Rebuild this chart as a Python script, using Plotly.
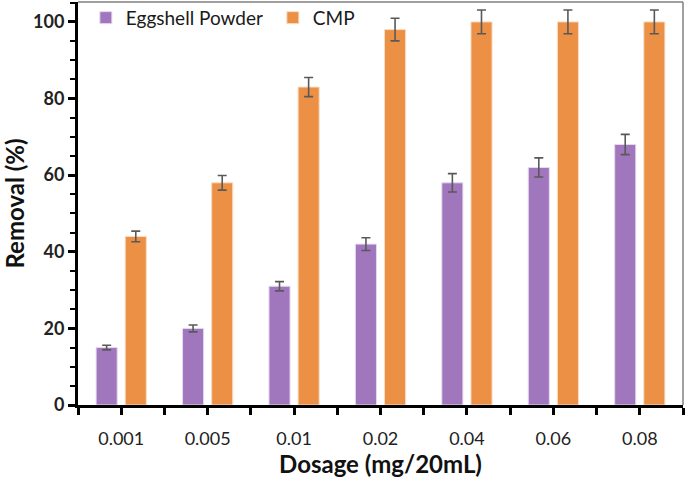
import plotly.graph_objects as go

categories = ["0.001", "0.005", "0.01", "0.02", "0.04", "0.06", "0.08"]
eggshell = [15, 20, 31, 42, 58, 62, 68]
eggshell_err = [0.6, 0.9, 1.2, 1.65, 2.4, 2.5, 2.65]
cmp_vals = [44, 58, 83, 98, 100, 100, 100]
cmp_err = [1.4, 1.9, 2.5, 2.95, 3.1, 3.1, 3.1]
y_ticks = [0, 20, 40, 60, 80, 100]

FONT = "Lato"
xpos = list(range(len(categories)))

fig = go.Figure()
fig.add_trace(go.Bar(
    x=xpos, y=eggshell, name="Eggshell Powder",
    marker=dict(color="#A077BD", line=dict(color="#E6D9EF", width=1)),
    error_y=dict(type="data", array=eggshell_err, color="#595959", thickness=1.6, width=4.5),
))
fig.add_trace(go.Bar(
    x=xpos, y=cmp_vals, name="CMP",
    marker=dict(color="#EB9045", line=dict(color="#F8DCC4", width=1)),
    error_y=dict(type="data", array=cmp_err, color="#595959", thickness=1.6, width=4.5),
))

tickvals = []
ticktext = []
for i in range(len(categories)):
    tickvals += [i - 0.5, i]
    ticktext += ["", categories[i]]
tickvals.append(len(categories) - 0.5)
ticktext.append("")

fig.update_layout(
    width=685, height=484,
    margin=dict(l=78, r=2, t=2, b=79, autoexpand=False),
    paper_bgcolor="white", plot_bgcolor="white",
    barmode="group", bargap=0.326, bargroupgap=0.276,
    font=dict(family=FONT, color="#222222"),
    legend=dict(
        orientation="h", x=0.013, y=1.008, xanchor="left", yanchor="top",
        font=dict(family=FONT, size=19, color="#1a1a1a"),
        bgcolor="rgba(0,0,0,0)", entrywidth=142,
    ),
    showlegend=True,
    shapes=[
        dict(type="line", xref="paper", yref="paper", x0=0, y0=1, x1=1, y1=1,
             line=dict(color="#808080", width=1.5), layer="above"),
        dict(type="line", xref="paper", yref="paper", x0=1, y0=0, x1=1, y1=1,
             line=dict(color="#808080", width=1.5), layer="above"),
    ],
)

fig.update_xaxes(
    range=[-0.5, len(categories) - 0.5],
    tickmode="array", tickvals=tickvals, ticktext=ticktext,
    ticks="outside", ticklen=7, tickwidth=2.5, tickcolor="black",
    showline=True, linecolor="black", linewidth=3,
    showgrid=False, zeroline=False, automargin=False,
    tickfont=dict(family=FONT, size=18, color="#222222"),
    ticklabelstandoff=8,
    title=dict(text="Dosage (mg/20mL)", font=dict(family=FONT, size=24, color="#111111", weight="bold"), standoff=8),
)
fig.update_yaxes(
    range=[0, 105.2],
    tickmode="array", tickvals=y_ticks,
    ticks="outside", ticklen=7, tickwidth=2.5, tickcolor="black",
    minor=dict(dtick=5, tick0=0, ticks="outside", ticklen=5, tickwidth=2, tickcolor="black"),
    showline=True, linecolor="black", linewidth=3,
    showgrid=False, zeroline=False, automargin=False,
    tickfont=dict(family=FONT, size=18, color="#222222", weight="bold"),
    title=dict(text="Removal (%)", font=dict(family=FONT, size=24, color="#111111", weight="bold"), standoff=4),
)

fig.write_html("out.html", config={"displayModeBar": False},
               post_script="document.body.style.margin='0';")
